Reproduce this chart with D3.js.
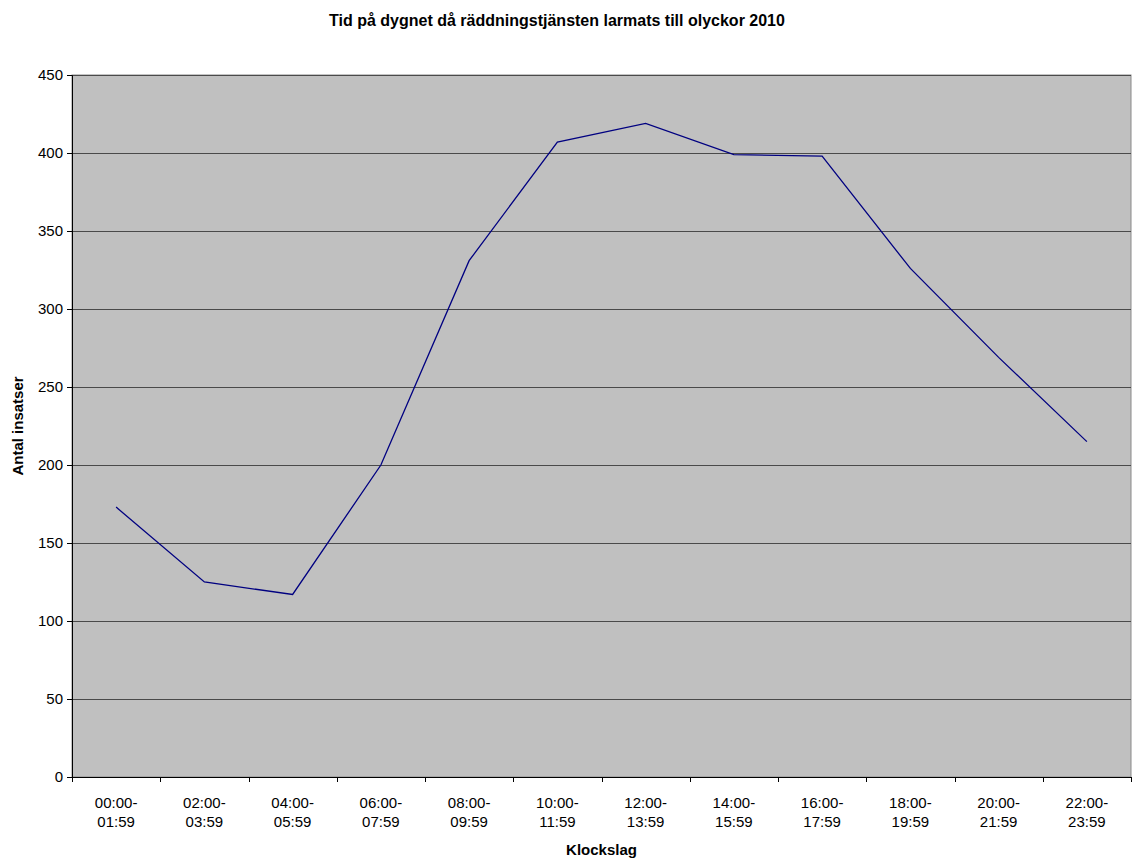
<!DOCTYPE html>
<html>
<head>
<meta charset="utf-8">
<script src="https://cdn.jsdelivr.net/npm/d3@7"></script>
<style>
  body { margin: 0; background: #fff; }
  text { font-family: "Liberation Sans", Arial, sans-serif; }
</style>
</head>
<body>
<div id="chart"></div>
<script>
// data
var categories = ["00:00-01:59", "02:00-03:59", "04:00-05:59", "06:00-07:59",
                  "08:00-09:59", "10:00-11:59", "12:00-13:59", "14:00-15:59",
                  "16:00-17:59", "18:00-19:59", "20:00-21:59", "22:00-23:59"];
var values = [173, 125, 117, 200, 331, 407, 419, 399, 398, 326, 269, 215];
var yTicks = [0, 50, 100, 150, 200, 250, 300, 350, 400, 450];

var width = 1137, height = 859;
var margin = { top: 75, right: 6, bottom: 82, left: 72 };
var plotW = width - margin.left - margin.right;
var plotH = height - margin.top - margin.bottom;

var svg = d3.select("#chart").append("svg")
    .attr("width", width)
    .attr("height", height);

var g = svg.append("g")
    .attr("transform", "translate(" + margin.left + "," + margin.top + ")");

var x = d3.scaleBand().domain(categories).range([0, plotW]);
var y = d3.scaleLinear().domain([0, 450]).range([plotH, 0]);

// plot background
g.append("rect")
    .attr("width", plotW)
    .attr("height", plotH)
    .attr("fill", "#c0c0c0")
    .attr("stroke", "#8a8a8a")
    .attr("stroke-width", 1);

// gridlines
g.selectAll(".grid")
    .data(yTicks.filter(function(d) { return d > 0; }))
    .enter().append("line")
    .attr("x1", 0)
    .attr("x2", plotW)
    .attr("y1", function(d) { return Math.round(y(d)) + 0.5; })
    .attr("y2", function(d) { return Math.round(y(d)) + 0.5; })
    .attr("stroke", "#4a4a4a")
    .attr("stroke-width", 1);

// y axis
var yAxis = g.append("g")
    .call(d3.axisLeft(y).tickValues(yTicks).tickSize(5).tickPadding(4));
yAxis.select(".domain").attr("stroke", "#000");
yAxis.selectAll("text").attr("font-size", "15px").attr("fill", "#000")
    .style("font-family", "Liberation Sans, Arial, sans-serif");

// x axis
var xTicks = d3.range(categories.length + 1);
var xAxisG = g.append("g").attr("transform", "translate(0," + plotH + ")");
xAxisG.append("line")
    .attr("x1", 0).attr("x2", plotW)
    .attr("y1", 0.5).attr("y2", 0.5)
    .attr("stroke", "#000");
xAxisG.selectAll(".xtick")
    .data(xTicks)
    .enter().append("line")
    .attr("x1", function(i) { return Math.round(i * x.step()) + 0.5; })
    .attr("x2", function(i) { return Math.round(i * x.step()) + 0.5; })
    .attr("y1", 0)
    .attr("y2", 5)
    .attr("stroke", "#000");

var labels = xAxisG.selectAll(".xlabel")
    .data(categories)
    .enter().append("text")
    .attr("text-anchor", "middle")
    .attr("font-size", "15px")
    .attr("fill", "#000")
    .attr("transform", function(d) { return "translate(" + (x(d) + x.bandwidth() / 2) + ",0)"; });
labels.append("tspan").attr("x", 0).attr("y", 31).text(function(d) { return d.split("-")[0] + "-"; });
labels.append("tspan").attr("x", 0).attr("y", 50).text(function(d) { return d.split("-")[1]; });

// line
var line = d3.line()
    .x(function(d, i) { return x(categories[i]) + x.bandwidth() / 2; })
    .y(function(d) { return y(d); });

g.append("path")
    .datum(values)
    .attr("fill", "none")
    .attr("stroke", "#000080")
    .attr("stroke-width", 1.3)
    .attr("d", line);

// titles
svg.append("text")
    .attr("x", 557)
    .attr("y", 26)
    .attr("text-anchor", "middle")
    .attr("font-size", "16px")
    .attr("font-weight", "bold")
    .text("Tid på dygnet då räddningstjänsten larmats till olyckor 2010");

svg.append("text")
    .attr("transform", "translate(23," + (margin.top + plotH / 2) + ") rotate(-90)")
    .attr("text-anchor", "middle")
    .attr("font-size", "15px")
    .attr("font-weight", "bold")
    .text("Antal insatser");

svg.append("text")
    .attr("x", margin.left + plotW / 2)
    .attr("y", 855)
    .attr("text-anchor", "middle")
    .attr("font-size", "15px")
    .attr("font-weight", "bold")
    .text("Klockslag");
</script>
</body>
</html>
